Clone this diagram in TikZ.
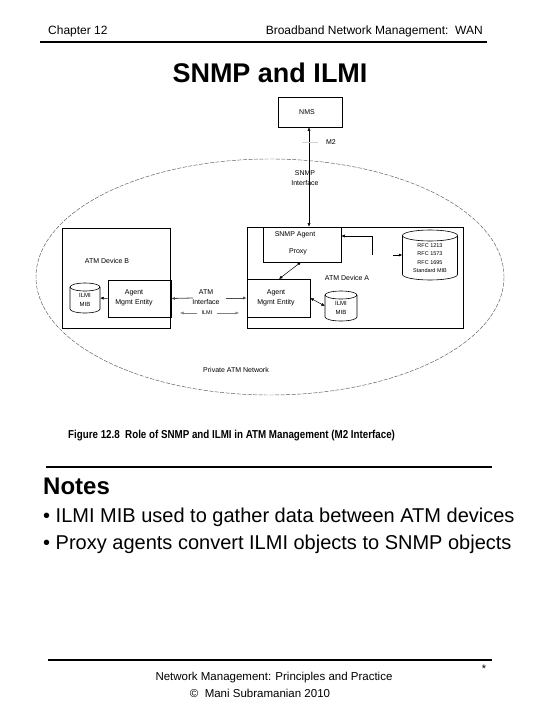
\documentclass[tikz,border=0pt]{standalone}
\usepackage{fontspec}
\setmainfont{Liberation Sans}
\usepackage{graphicx}
\usetikzlibrary{arrows.meta}
% cylinder: name, cx, cy, width, height, ellipse half-height
\newcommand{\mycyl}[6]{%
  \node[inner sep=0pt, minimum width=#4pt, minimum height=#5pt] (#1) at (#2,#3) {};
  \draw[line width=0.6pt] (#2-#4/2, #3-#5/2+#6) -- (#2-#4/2, #3+#5/2-#6)
     arc[start angle=180, end angle=0, x radius=#4/2, y radius=#6] -- (#2+#4/2, #3-#5/2+#6);
  \draw[line width=0.6pt] (#2, #3-#5/2+#6) ellipse [x radius=#4/2, y radius=#6];
}
\begin{document}
\begin{tikzpicture}[x=1pt,y=-1pt,
  rulebar/.style={line width=2.5pt},
  blk/.style={draw, line width=0.6pt, inner sep=0pt},
  lbl/.style={font=\fontsize{7}{9.5}\selectfont, align=center, inner sep=0pt},
  arr/.style={-{Latex[length=3.5pt,width=3pt]}, line width=0.5pt},
  darr/.style={{Latex[length=3.5pt,width=3pt]}-{Latex[length=3.5pt,width=3pt]}, line width=0.5pt}]
\useasboundingbox (0,0) rectangle (540,720);
\fill[white] (0,0) rectangle (540,720);

% header
\node[anchor=base west, inner sep=0pt, font=\fontsize{12}{14}\selectfont] (chap) at (48,34) {Chapter 12};
\node[anchor=base east, inner sep=0pt, font=\fontsize{12}{14}\selectfont] (book) at (483,34) {Broadband Network Management:\ \ WAN};
\draw[rulebar] (40,42) -- (487,42);
\node[anchor=base, inner sep=0pt, font=\fontsize{27}{30}\bfseries] (title) at (270,82) {SNMP and ILMI};

% network ellipse
\draw[gray!70!black, line width=0.45pt, dash pattern=on 4pt off 1.5pt] (270,277) ellipse [x radius=234, y radius=118];

% NMS
\node[blk, minimum width=64pt, minimum height=30pt] (nms) at (310,112) {};
\node[lbl] (nmst) at (307,112) {NMS};

% Device B
\node[blk, minimum width=108pt, minimum height=100pt] (devb) at (116,278) {};
\node[lbl] (devbt) at (107,261) {ATM Device B};
\node[blk, minimum width=63pt, minimum height=37pt] (agb) at (139.5,298.5) {};
\node[lbl, text width=60pt] (agbt) at (134,298) {Agent\\Mgmt Entity};
\mycyl{mibb}{85}{298}{30}{30}{4}
\node[lbl, font=\fontsize{6}{9.5}\selectfont] (mibbt) at (85,300) {ILMI\\MIB};
\draw[arr] (agb.west) -- (mibb.east);

% Device A
\node[blk, minimum width=216pt, minimum height=101pt] (deva) at (355,277.5) {};
\node[blk, minimum width=78pt, minimum height=35pt] (proxy) at (302,244.5) {};
\node[lbl] (proxyt1) at (295,235) {SNMP Agent};
\node[lbl] (proxyt2) at (298,252) {Proxy};
\node[blk, minimum width=63pt, minimum height=38pt] (aga) at (278.5,298) {};
\node[lbl, text width=60pt] (agat) at (276,298) {Agent\\Mgmt Entity};
\node[lbl] (devat) at (347,278) {ATM Device A};
\mycyl{miba}{341}{306}{32}{30}{4}
\node[lbl, font=\fontsize{6}{9.5}\selectfont] (mibat) at (341,308) {ILMI\\MIB};
\draw[darr] (aga.east) -- (miba.west);
\draw[darr] (301,262) -- (279,279);

% standard MIB cylinder
\mycyl{stdmib}{430}{255}{55}{50}{5.5}
\node[lbl, font=\fontsize{5.5}{8.5}\selectfont] (stdmibt) at (430,258) {RFC 1213\\RFC 1573\\RFC 1695\\Standard MIB};
\coordinate (rt) at (372,255);
\coordinate (cin) at (393,255);
\draw[arr] (rt) |- (proxy.east |- 0,236);
\draw[arr] (cin) -- (stdmib.west);

% SNMP interface
\draw[darr] (nms.south -| 309,0) -- (proxy.north -| 309,0);
\coordinate (m2a) at (302,142);
\coordinate (m2b) at (318,142);
\draw[gray!35, line width=0.5pt] (m2a) -- (m2b);
\node[lbl] (m2) at (331,142) {M2};
\node[lbl] (snmpif) at (305,178) {SNMP\\Interface};

% ATM interface
\node[lbl] (atmif) at (206,297) {ATM\\Interface};
\coordinate (ail) at (193,298);
\coordinate (air) at (226,298);
\draw[arr, line width=0.8pt, gray!60!black] (ail) -- (agb.east);
\draw[arr, line width=0.8pt, gray!60!black] (air) -- (aga.west);
\node[lbl, font=\fontsize{5.5}{7}\selectfont] (ilmi) at (207,313) {ILMI};
\draw[arr, line width=0.4pt, gray] (ilmi.west) ++(-4,0) coordinate (il1) -- (180,313);
\draw[arr, line width=0.4pt, gray] (ilmi.east) ++(4,0) coordinate (il2) -- (239,313);

\node[lbl] (pan) at (236,370) {Private ATM Network};

% caption
\node[anchor=base west, inner sep=0pt] (cap) at (68,438) {\scalebox{0.85}[1]{\fontsize{11.5}{13}\bfseries Figure 12.8\ \ Role of SNMP and ILMI in ATM Management (M2 Interface)}};

% notes
\draw[rulebar] (46,467) -- (492,467);
\node[anchor=base west, inner sep=0pt, font=\fontsize{24}{28}\bfseries] (notes) at (43,494) {Notes};
\node[anchor=base west, inner sep=0pt, font=\fontsize{20}{24}\selectfont] (b1) at (43,522) {• ILMI MIB used to gather data between ATM devices};
\node[anchor=base west, inner sep=0pt, font=\fontsize{20}{24}\selectfont] (b2) at (43,549) {• Proxy agents convert ILMI objects to SNMP objects};

% footer
\draw[rulebar] (48,660) -- (492,660);
\node[anchor=base, inner sep=0pt, font=\fontsize{11.5}{14}\selectfont] (f1) at (274,680) {Network Management: Principles and Practice};
\node[anchor=base, inner sep=0pt, font=\fontsize{11.5}{14}\selectfont] (f2) at (260,697) {©\ \ Mani Subramanian 2010};
\node[anchor=base, inner sep=0pt, font=\fontsize{11}{14}\selectfont] (star) at (484,672) {*};
\end{tikzpicture}
\end{document}
